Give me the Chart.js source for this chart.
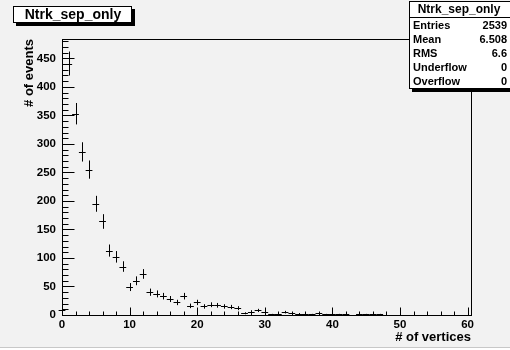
<!DOCTYPE html>
<html>
<head>
<meta charset="utf-8">
<script src="https://cdn.jsdelivr.net/npm/chart.js@4.4.1/dist/chart.umd.min.js"></script>
<style>
  html, body { margin: 0; padding: 0; background: #f2f2f2; }
  #wrap { position: relative; width: 510px; height: 350px; }
</style>
</head>
<body>
<div id="wrap"><canvas id="hist" width="510" height="350"></canvas></div>
<script>
// histogram contents, one bin per vertex count
const binCenters = [0, 1, 2, 3, 4, 5, 6, 7, 8, 9, 10, 11, 12, 13, 14, 15, 16, 17, 18, 19,
    20, 21, 22, 23, 24, 25, 26, 27, 28, 29, 30, 31, 32, 33, 34, 35, 36, 37, 38, 39,
    40, 41, 42, 44, 45, 46, 47];
const counts = [8, 441, 353, 286, 255, 195, 164, 113, 102, 85, 49, 60, 72, 40, 37, 33, 28, 22, 33, 16,
    22, 15, 18, 17, 15, 14, 12, 3, 6, 8, 5, 1, 2, 5, 3, 2, 2, 1, 3, 1,
    1, 1, 1, 2, 1, 1, 1];
const xTicks = [0, 10, 20, 30, 40, 50, 60];
const yTicks = [0, 50, 100, 150, 200, 250, 300, 350, 400, 450];

const histName = "Ntrk_sep_only";
const statLabels = ["Entries", "Mean", "RMS", "Underflow", "Overflow"];
const statValues = ["2539", "6.508", "6.6", "0", "0"];

const FONT = "'Liberation Sans', Arial, Helvetica, sans-serif";

// ROOT style: frame, inward ticks, error crosses, title + stats boxes
const rootStyle = {
    id: "rootStyle",
    afterDraw(chart) {
        const ctx = chart.ctx;
        const xs = chart.scales.x, ys = chart.scales.y;
        const area = chart.chartArea;
        const L = Math.round(area.left) + 0.5, R = Math.round(area.right) + 0.5;
        const T = Math.round(area.top) + 0.5, B = Math.round(area.bottom) + 0.5;

        ctx.save();
        ctx.strokeStyle = "#000";
        ctx.lineWidth = 1;

        // error bars
        ctx.beginPath();
        counts.forEach((v, i) => {
            const x = binCenters[i];
            const px = Math.round(xs.getPixelForValue(x)) + 0.5;
            const py = Math.round(ys.getPixelForValue(v)) + 0.5;
            const err = Math.sqrt(v);
            ctx.moveTo(xs.getPixelForValue(x - 0.5), py);
            ctx.lineTo(xs.getPixelForValue(x + 0.5), py);
            ctx.moveTo(px, ys.getPixelForValue(Math.max(v - err, 0)));
            ctx.lineTo(px, ys.getPixelForValue(v + err));
        });
        ctx.stroke();

        // frame
        ctx.strokeRect(L, T, R - L, B - T);

        // x ticks (major every 10, minor every 2)
        ctx.beginPath();
        for (let v = 0; v <= 60; v += 2) {
            const px = Math.round(xs.getPixelForValue(v)) + 0.5;
            const len = v % 10 === 0 ? 8 : 4;
            ctx.moveTo(px, B);
            ctx.lineTo(px, B - len);
        }
        // y ticks (major every 50, minor every 10)
        for (let v = 0; v <= 480; v += 10) {
            const py = Math.round(ys.getPixelForValue(v)) + 0.5;
            const len = v % 50 === 0 ? 12 : 6;
            ctx.moveTo(L, py);
            ctx.lineTo(L + len, py);
        }
        ctx.stroke();

        // title box
        ctx.fillStyle = "#000";
        ctx.fillRect(16, 9, 119, 17);
        ctx.fillStyle = "#fff";
        ctx.fillRect(13, 6, 119, 17);
        ctx.strokeRect(13.5, 6.5, 118, 16);
        ctx.fillStyle = "#000";
        ctx.font = "bold 14px " + FONT;
        ctx.textAlign = "center";
        ctx.textBaseline = "middle";
        ctx.fillText(histName, 73, 15);

        // stats box
        ctx.fillStyle = "#000";
        ctx.fillRect(412, 4, 100, 88);
        ctx.fillStyle = "#fff";
        ctx.fillRect(409, 1, 101, 88);
        ctx.strokeRect(409.5, 1.5, 101, 87);
        ctx.beginPath();
        ctx.moveTo(409, 17.5);
        ctx.lineTo(510, 17.5);
        ctx.stroke();
        ctx.fillStyle = "#000";
        ctx.font = "bold 12px " + FONT;
        ctx.textAlign = "center";
        ctx.fillText(histName, 459, 10);
        ctx.font = "bold 11px " + FONT;
        statLabels.forEach((lab, i) => {
            const y = 26 + i * 14;
            ctx.textAlign = "left";
            ctx.fillText(lab, 413, y);
            ctx.textAlign = "right";
            ctx.fillText(statValues[i], 507, y);
        });

        // canvas bottom edge
        ctx.fillStyle = "#fff";
        ctx.fillRect(0, 348, 510, 2);
        ctx.strokeStyle = "#c8c8c8";
        ctx.beginPath();
        ctx.moveTo(0, 347.5);
        ctx.lineTo(510, 347.5);
        ctx.stroke();
        ctx.restore();
    }
};

new Chart(document.getElementById("hist"), {
    type: "scatter",
    data: {
        datasets: [{
            label: histName,
            data: binCenters.map((x, i) => ({ x: x, y: counts[i] })),
            pointRadius: 0,
            showLine: false,
        }],
    },
    options: {
        responsive: false,
        animation: false,
        devicePixelRatio: 1,
        layout: { padding: { top: 39, right: 39, left: 0, bottom: 0 } },
        plugins: { legend: { display: false }, tooltip: { enabled: false } },
        scales: {
            x: {
                type: "linear",
                min: 0,
                max: 60.5,
                afterBuildTicks: s => { s.ticks = xTicks.map(v => ({ value: v })); },
                afterFit: s => { s.height = 35; },
                grid: { display: false, drawTicks: false },
                border: { display: false },
                ticks: {
                    color: "#000",
                    padding: 3,
                    maxRotation: 0,
                    autoSkip: false,
                    font: { family: FONT, size: 11.5, weight: 700 },
                },
                title: {
                    display: true,
                    text: "# of vertices",
                    align: "end",
                    color: "#000",
                    padding: { top: 0, bottom: 5 },
                    font: { family: FONT, size: 13, weight: 700 },
                },
            },
            y: {
                type: "linear",
                min: 0,
                max: 484,
                afterBuildTicks: s => { s.ticks = yTicks.map(v => ({ value: v })); },
                afterFit: s => { s.width = 62; },
                grid: { display: false, drawTicks: false },
                border: { display: false },
                ticks: {
                    color: "#000",
                    padding: 6,
                    autoSkip: false,
                    font: { family: FONT, size: 11.5, weight: 700 },
                },
                title: {
                    display: true,
                    text: "# of events",
                    align: "end",
                    color: "#000",
                    padding: { top: 22, bottom: 0 },
                    font: { family: FONT, size: 13, weight: 700 },
                },
            },
        },
    },
    plugins: [rootStyle],
});
</script>
</body>
</html>
